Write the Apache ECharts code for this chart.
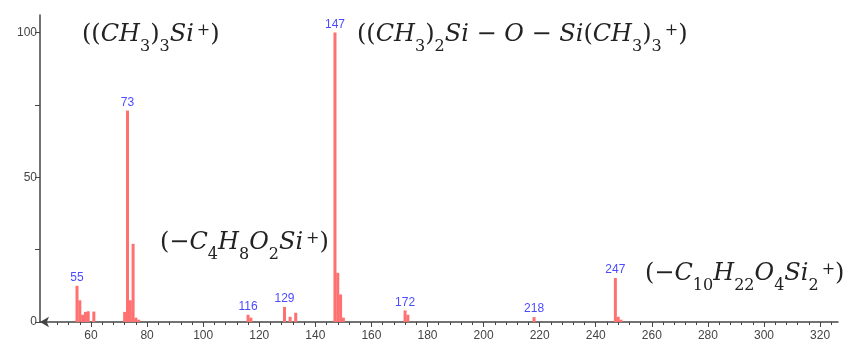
<!DOCTYPE html>
<html>
<head>
<meta charset="utf-8">
<script src="https://cdn.jsdelivr.net/npm/echarts@6/dist/echarts.min.js"></script>
<style>
  html, body { margin: 0; padding: 0; background: #fff; }
  #chart { width: 846px; height: 346px; }
</style>
</head>
<body>
<div id="chart"></div>
<script>
// m/z values and relative intensities
const mz = [55, 56, 57, 58, 59, 61, 72, 73, 74, 75, 76, 77, 116, 117, 129, 131, 133,
    147, 148, 149, 150, 172, 173, 218, 247, 248, 249];
const intensity = [12.5, 7.5, 2.5, 3.5, 3.7, 3.6, 3.5, 73, 7.5, 27, 1.5, 0.8, 2.5, 1.5, 5.2, 1.8, 3.2,
    100, 17, 9.5, 1.5, 4, 2.5, 1.7, 15.2, 1.8, 0.8];
const labeledPeaks = [55, 73, 116, 129, 147, 172, 218, 247];
const xTicks = [60, 80, 100, 120, 140, 160, 180, 200, 220, 240, 260, 280, 300, 320];
const xMinorTicks = [44, 48, 52, 56, 64, 68, 72, 76, 84, 88, 92, 96, 104, 108, 112, 116, 124, 128, 132, 136,
    144, 148, 152, 156, 164, 168, 172, 176, 184, 188, 192, 196, 204, 208, 212, 216, 224, 228, 232, 236,
    244, 248, 252, 256, 264, 268, 272, 276, 284, 288, 292, 296, 304, 308, 312, 316, 324];
const yTicks = [0, 50, 100];
const yMinorTicks = [0, 25, 50, 75, 100];

const axisColor = '#444';
const labelColor = '#444';
const barColor = '#ff7070';
const peakLabelColor = '#4b4bff';

// rich text styles for the fragment formulas
const serif = 'DejaVu Serif';
const rich = {
    i: { fontFamily: serif, fontStyle: 'italic', fontSize: 24, color: '#222', verticalAlign: 'bottom', padding: [0, 0, 8, 0] },
    p: { fontFamily: serif, fontSize: 24, color: '#222', verticalAlign: 'bottom', padding: [0, 0, 8, 0] },
    s: { fontFamily: serif, fontSize: 16, color: '#222', verticalAlign: 'bottom' },
    u: { fontFamily: serif, fontSize: 16, color: '#222', verticalAlign: 'top', padding: [0, 0, 0, 3] }
};

function formula(text, left, top) {
    return {
        type: 'text', left: left, top: top, z: 10,
        style: { text: text, rich: rich, fill: '#222' }
    };
}

const chart = echarts.init(document.getElementById('chart'));
chart.setOption({
    animation: false,
    grid: { left: 40, right: 8, top: 15, bottom: 24 },
    xAxis: [
        {
            type: 'value', position: 'bottom', min: 41.8, max: 326.4,
            axisLine: { show: true, lineStyle: { color: axisColor, width: 1.5 }, symbol: ['arrow', 'none'], symbolSize: [8, 9] },
            axisTick: { show: true, length: 5, customValues: xTicks, lineStyle: { color: axisColor } },
            axisLabel: { customValues: xTicks, color: labelColor, fontSize: 12, fontFamily: 'Liberation Sans', margin: 8 },
            splitLine: { show: false }
        },
        {
            type: 'value', position: 'bottom', min: 41.8, max: 326.4,
            axisLine: { show: false },
            axisTick: { show: true, length: 3, customValues: xMinorTicks, lineStyle: { color: axisColor } },
            axisLabel: { show: false },
            splitLine: { show: false }
        }
    ],
    yAxis: {
        type: 'value', min: 0, max: 106,
        axisLine: { show: true, lineStyle: { color: axisColor, width: 1.5 } },
        axisTick: { show: true, length: 5, customValues: yMinorTicks, lineStyle: { color: axisColor } },
        axisLabel: { customValues: yTicks, color: labelColor, fontSize: 12, fontFamily: 'Liberation Sans', margin: 3 },
        splitLine: { show: false }
    },
    series: [
        {
            type: 'bar',
            xAxisIndex: 0,
            barWidth: 3,
            itemStyle: { color: barColor },
            label: {
                show: true, position: 'top', distance: 2,
                color: peakLabelColor, fontSize: 12, fontFamily: 'Liberation Sans',
                formatter: p => labeledPeaks.includes(p.value[0]) ? String(p.value[0]) : ''
            },
            data: mz.map((m, i) => [m, intensity[i]])
        }
    ],
    graphic: [
        formula('{p|((}{i|CH}{s|3}{p|)}{s|3}{i|Si}{u|+}{p|)}', 82, 23),
        formula('{p|((}{i|CH}{s|3}{p|)}{s|2}{i|Si}{p| − }{i|O}{p| − }{i|Si}{p|(}{i|CH}{s|3}{p|)}{s|3}{u|+}{p|)}', 357, 23),
        formula('{p|(−}{i|C}{s|4}{i|H}{s|8}{i|O}{s|2}{i|Si}{u|+}{p|)}', 160, 231),
        formula('{p|(−}{i|C}{s|10}{i|H}{s|22}{i|O}{s|4}{i|Si}{s|2}{u|+}{p|)}', 645, 262)
    ]
});
</script>
</body>
</html>
